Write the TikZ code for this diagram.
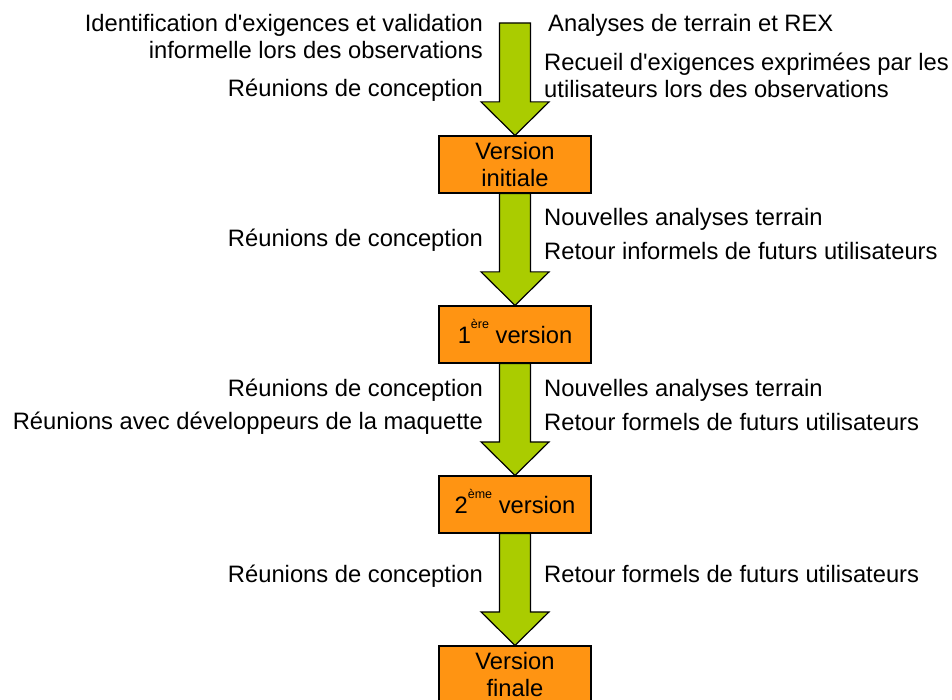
\documentclass[tikz,border=0pt]{standalone}
\usepackage{fontspec}
\setmainfont{Liberation Sans}[Ligatures=TeXOff]
\usetikzlibrary{calc}
\definecolor{boxorange}{RGB}{255,148,18}
\definecolor{arrowgreen}{RGB}{170,204,0}
\newcommand\suptxt[1]{\raisebox{0.62em}{\fontsize{12.5}{12.5}\selectfont #1}}
\tikzset{
  lbl/.style={inner sep=0pt, font=\fontsize{23.75}{27.5}\selectfont},
  lft/.style={lbl, anchor=base east},
  rgt/.style={lbl, anchor=base west},
  stage/.style={draw=black, line width=1.2pt, fill=boxorange, minimum width=152pt,
    minimum height=57pt, inner sep=0pt, align=center,
    font=\fontsize{23.75}{27.5}\selectfont},
  onerow/.style={text height=17pt, text depth=0pt},
  flow/.style={draw=black, line width=1.2pt, fill=arrowgreen, line join=miter},
}
% big block arrow from the bottom of (#1) to the top of (#2)
\newcommand\flowarrow[2]{%
  \path[flow] let \p1=(#1), \p2=(#2) in
    (\x1-15.5pt,\y1) -- (\x1+15.5pt,\y1) -- (\x1+15.5pt,\y2+33.5pt)
    -- (\x1+34pt,\y2+33.5pt) -- (\x2,\y2) -- (\x1-34pt,\y2+33.5pt)
    -- (\x1-15.5pt,\y2+33.5pt) -- cycle;}
\begin{document}
\begin{tikzpicture}[x=1pt,y=-1pt]
\useasboundingbox (0,0) rectangle (952,700);

% stages
\coordinate (start) at (515,23);
\node[stage] (v0) at (515,164.5) {Version\\initiale};
\node[stage, onerow] (v1) at (515,334.5) {1\suptxt{ère} version};
\node[stage, onerow] (v2) at (515,504.5) {2\suptxt{ème} version};
\node[stage] (v3) at (515,674.5) {Version\\finale};

% arrows between stages
\flowarrow{start}{v0.north}
\flowarrow{v0.south}{v1.north}
\flowarrow{v1.south}{v2.north}
\flowarrow{v2.south}{v3.north}
% redraw the boxes above the arrow ends
\node[stage] at (v0) {Version\\initiale};
\node[stage, onerow] at (v1) {1\suptxt{ère} version};
\node[stage, onerow] at (v2) {2\suptxt{ème} version};
\node[stage] at (v3) {Version\\finale};

% inputs before the initial version
\node[lft] (a1) at (483,32) {Identification d'exigences et validation};
\node[lft] (a2) at (483,58.5) {informelle lors des observations};
\node[lft] (a3) at (483,96.5) {Réunions de conception};
\node[rgt] (b1) at (548,32) {Analyses de terrain et REX};
\node[rgt] (b2) at (544,71) {Recueil d'exigences exprimées par les};
\node[rgt] (b3) at (544,98) {utilisateurs lors des observations};

% inputs before the 1st version
\node[lft] (c1) at (483,247) {Réunions de conception};
\node[rgt] (d1) at (544,226) {Nouvelles analyses terrain};
\node[rgt] (d2) at (544,260) {Retour informels de futurs utilisateurs};

% inputs before the 2nd version
\node[lft] (e1) at (483,396) {Réunions de conception};
\node[lft] (e2) at (483,429.5) {Réunions avec développeurs de la maquette};
\node[rgt] (f1) at (544,396) {Nouvelles analyses terrain};
\node[rgt] (f2) at (544,430) {Retour formels de futurs utilisateurs};

% inputs before the final version
\node[lft] (g1) at (483,582) {Réunions de conception};
\node[rgt] (h1) at (544,582) {Retour formels de futurs utilisateurs};
\end{tikzpicture}
\end{document}
